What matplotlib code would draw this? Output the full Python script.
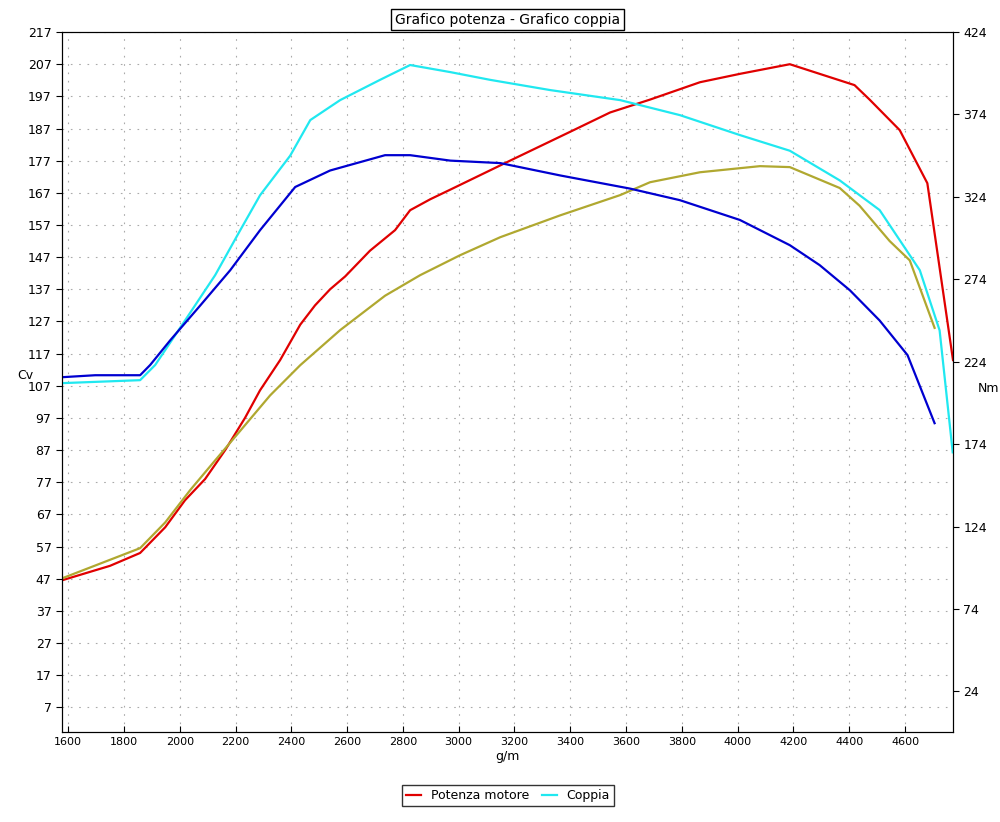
import matplotlib
matplotlib.use("Agg")
import matplotlib.pyplot as plt

red_x=[1578,1750,1858,1948,2019,2091,2163,2234,2288,2360,2432,2485,2539,2593,2682,2772,2826,2898,2970,3077,3184,3256,3400,3543,3686,3865,4008,4187,4294,4419,4473,4581,4680,4772]
red_y=[46.5,51,55,63,71.4,78,87,97,105.6,115,126,132,137,141,149,155.4,161.6,165,168,172.5,177,180,186,192,196,201.4,204,207,204,200.5,196,186.5,170,115]
cyan_x=[1578,1858,1912,2019,2127,2217,2288,2396,2468,2575,2718,2826,2970,3113,3328,3579,3793,4008,4187,4366,4509,4653,4724,4771]
cyan_y=[211,212.8,222,249,276.5,303.8,325,349,370.6,382.7,395,404,399.7,395,388.8,382.7,373.6,361.5,352,334,316,279.5,243,169]
blue_x=[1578,1697,1858,1894,1966,2073,2181,2288,2414,2539,2736,2826,2970,3149,3364,3615,3793,4008,4187,4294,4402,4509,4609,4706]
blue_y=[214.6,215.8,215.8,222,237,258,279.5,303.8,330,340,349.3,349.3,346,344.5,337,329,322,310,294.7,282.6,267.4,249,228,186.7]
olive_x=[1578,1858,1948,2037,2127,2217,2324,2432,2575,2736,2862,3005,3149,3364,3579,3686,3865,4080,4187,4366,4437,4545,4617,4706]
olive_y=[47.1,56.5,64.5,74.5,83.8,93,104,113.4,124.3,135,141.4,147.6,153.2,160,166.3,170.3,173.4,175.3,175,168.5,163,152,146,125]
left_ticks=list(range(7,218,10))
right_ticks=list(range(24,425,50))
x_ticks=list(range(1600,4601,200))

fig=plt.figure(figsize=(10,8.22),dpi=100)
ax=fig.add_axes([0.062,0.109,0.891,0.852])
ax2=ax.twinx()
ax.plot(red_x,red_y,color='#e00000',lw=1.6,label='Potenza motore')
ax.plot(olive_x,olive_y,color='#b0a830',lw=1.6)
ax2.plot(cyan_x,cyan_y,color='#20e8f0',lw=1.6,label='Coppia')
ax2.plot(blue_x,blue_y,color='#0000d0',lw=1.6)
ax.set_xlim(1578,4772)
ax.set_ylim(-0.8,217)
ax2.set_ylim(-0.9,424)
ax.set_xticks(x_ticks); ax.set_yticks(left_ticks); ax2.set_yticks(right_ticks)
for a in (ax,ax2):
    a.tick_params(labelsize=8,direction='in',length=4)
ax.tick_params(axis='y',labelsize=9,direction='out')
ax2.tick_params(axis='y',labelsize=9,direction='out')
ax.grid(True,color='#aaaaaa',ls=(0,(1.5,6)),lw=0.8)
ax.set_xlabel('g/m',fontsize=9,labelpad=2)
ax.set_ylabel('Cv',rotation=0,fontsize=9,labelpad=2)
ax2.set_ylabel('Nm',rotation=0,fontsize=9,labelpad=1)
ax.set_title('Grafico potenza - Grafico coppia',fontsize=10,pad=6,bbox=dict(facecolor='white',edgecolor='black',boxstyle='square,pad=0.25'))
h1,l1=ax.get_legend_handles_labels(); h2,l2=ax2.get_legend_handles_labels()
fig.legend(h1+h2,l1+l2,loc='center',bbox_to_anchor=(0.508,0.032),ncol=2,fontsize=9,frameon=True,fancybox=False,edgecolor='black',handlelength=1.2,columnspacing=1.0,borderpad=0.3)
fig.savefig('out.png')
